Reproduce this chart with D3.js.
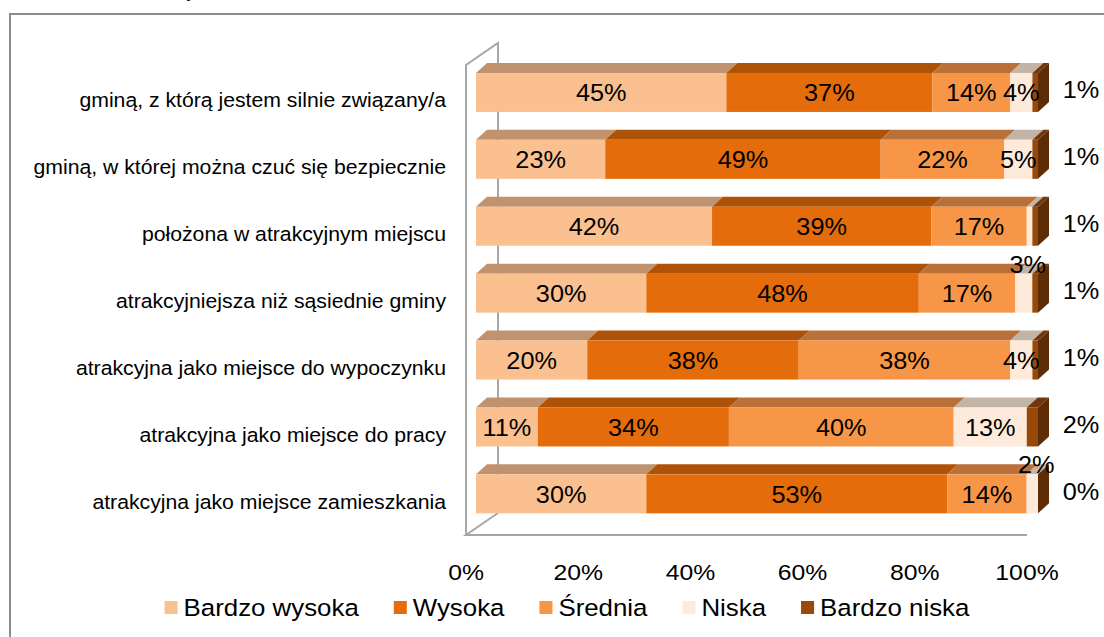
<!DOCTYPE html>
<html>
<head>
<meta charset="utf-8">
<script src="https://cdn.jsdelivr.net/npm/d3@7"></script>
<style>
  body { margin: 0; background: #fff; }
  svg { display: block; font-family: "Liberation Sans", Arial, sans-serif; }
</style>
</head>
<body>
<svg id="chart" width="1104" height="637"></svg>
<script>
// dane z wykresu
const categories = [
    "gminą, z którą jestem silnie związany/a",
    "gminą, w której można czuć się bezpiecznie",
    "położona w atrakcyjnym miejscu",
    "atrakcyjniejsza niż sąsiednie gminy",
    "atrakcyjna jako miejsce do wypoczynku",
    "atrakcyjna jako miejsce do pracy",
    "atrakcyjna jako miejsce zamieszkania"
];
const seriesNames = ["Bardzo wysoka", "Wysoka", "Średnia", "Niska", "Bardzo niska"];
const bardzoWysoka = [45, 23, 42, 30, 20, 11, 30];
const wysoka       = [37, 49, 39, 48, 38, 34, 53];
const srednia      = [14, 22, 17, 17, 38, 40, 14];
const niska        = [4, 5, 1, 3, 4, 13, 2];
const bardzoNiska  = [1, 1, 1, 1, 1, 2, 0];
const xTicks = [0, 20, 40, 60, 80, 100];
// etykiety, ktorych nie widac na oryginale: [wiersz, seria]
const hiddenLabels = [[2, 3]];

const frontColors = ["#FAC090", "#E46C0A", "#F79646", "#FDEADA", "#984807"];
const topColors   = ["#C0926E", "#AE5207", "#BA7039", "#C2B5A8", "#73360A"];
const endColor = "#5F2D05";
const SX = 1.1; // tekst w oryginale jest lekko rozciagniety w poziomie

const series = [bardzoWysoka, wysoka, srednia, niska, bardzoNiska];
const svg = d3.select("#chart");

// ramka
svg.append("path")
    .attr("d", "M10,637 L10,14 L1104,14")
    .attr("fill", "none").attr("stroke", "#8C8C8C").attr("stroke-width", 2);

// urwany tytul nad ramka
svg.append("text").attr("x", 188).attr("y", -3).attr("font-size", 20)
    .attr("font-style", "italic").text("y");

// skale
const xBar = d3.scaleLinear().domain([0, 100]).range([476, 1038]);
const xAxis = d3.scaleLinear().domain([0, 100]).range([466, 1027]);
const y = d3.scaleBand().domain(categories).range([59, 527.3])
    .paddingInner(0.417).paddingOuter(0.2085);
const dx = 11, dy = -10;      // glebokosc slupka
const bdx = 32, bdy = -22;    // glebokosc "pudelka"

// pudelko 3D
const box = svg.append("g").attr("fill", "none").attr("stroke", "#A6A6A6").attr("stroke-width", 2);
const floorY = 535, topY = 65;
box.append("path").attr("d",
    `M${xAxis(0)},${floorY} L${xAxis(0)},${topY} L${xAxis(0) + bdx},${topY + bdy} L${xAxis(0) + bdx},${floorY + bdy}`);
box.append("path").attr("d",
    `M${xAxis(100)},${floorY} L${xAxis(0)},${floorY} L${xAxis(0) + bdx},${floorY + bdy}`);

// os X
svg.append("g").selectAll("text").data(xTicks).join("text")
    .attr("transform", d => `translate(${xAxis(d)},580) scale(${SX},1)`)
    .attr("text-anchor", "middle").attr("font-size", 22.5)
    .text(d => d + "%");

// etykiety kategorii
svg.append("g").selectAll("text").data(categories).join("text")
    .attr("transform", d => `translate(446,${y(d) + y.bandwidth() / 2 + 15}) scale(${SX},1)`)
    .attr("text-anchor", "end").attr("font-size", 19.3)
    .text(d => d);

// slupki
const rows = categories.map((c, i) => {
    const vals = series.map(s => s[i]);
    const total = d3.sum(vals);
    let acc = 0;
    const segs = vals.map((v, k) => {
        const s = { row: i, k, v, x0: acc / total * 100, x1: (acc + v) / total * 100 };
        acc += v;
        return s;
    });
    return { c, i, segs };
});

const bars = svg.append("g");
rows.forEach(r => {
    const top = y(r.c), h = y.bandwidth(), bot = top + h;
    const g = bars.append("g");
    r.segs.forEach(s => {
        if (s.v <= 0) return;
        const a = xBar(s.x0), b = xBar(s.x1);
        g.append("path")
            .attr("d", `M${a},${top} L${b},${top} L${b + dx},${top + dy} L${a + dx},${top + dy}Z`)
            .attr("fill", topColors[s.k]);
        g.append("rect")
            .attr("x", a).attr("y", top).attr("width", b - a).attr("height", h)
            .attr("fill", frontColors[s.k]);
    });
    const e = xBar(100);
    g.append("path")
        .attr("d", `M${e},${top} L${e + dx},${top + dy} L${e + dx},${bot + dy} L${e},${bot}Z`)
        .attr("fill", endColor);
});

// etykiety danych
const labels = svg.append("g").attr("font-size", 23);
rows.forEach(r => {
    const top = y(r.c), mid = top + y.bandwidth() / 2;
    r.segs.forEach(s => {
        if (hiddenLabels.some(h => h[0] === r.i && h[1] === s.k)) return;
        let lx, ly;
        if (s.k === 4) {
            lx = 1081; ly = mid + 6;
        } else if (s.k === 3 && s.v < 4) {
            lx = (xBar(s.x0) + xBar(s.x1)) / 2 + 4; ly = top - 1;
        } else {
            lx = (xBar(s.x0) + xBar(s.x1)) / 2; ly = mid + 9;
        }
        labels.append("text")
            .attr("transform", `translate(${lx},${ly}) scale(${SX},1)`)
            .attr("text-anchor", "middle")
            .text(s.v + "%");
    });
});

// legenda
const legend = svg.append("g").attr("font-size", 23.5);
let lx = 0;
seriesNames.forEach((n, k) => {
    const it = legend.append("g");
    it.append("rect").attr("x", 0).attr("y", -7).attr("width", 13).attr("height", 13)
        .attr("fill", frontColors[k]);
    const t = it.append("text").attr("transform", `translate(19,8) scale(${SX},1)`).text(n);
    const w = 19 + t.node().getComputedTextLength() * SX;
    it.attr("transform", `translate(${lx},608)`);
    lx += w + 35;
});
const legendW = lx - 35;
legend.attr("transform", `translate(${567 - legendW / 2},0)`);
</script>
</body>
</html>
